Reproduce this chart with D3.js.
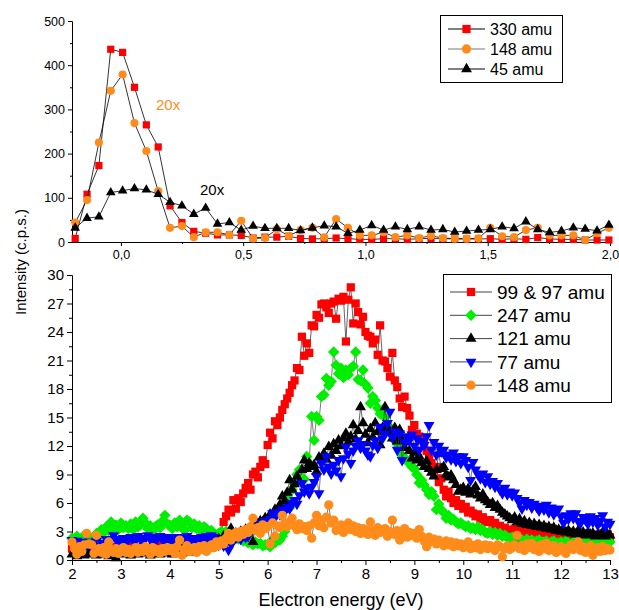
<!DOCTYPE html>
<html>
<head>
<meta charset="utf-8">
<script src="https://cdn.jsdelivr.net/npm/d3@7"></script>
<style>
  body { margin: 0; background: #fff; }
  svg { font-family: "Liberation Sans", Arial, sans-serif; }
</style>
</head>
<body>
<script>
// ---- top panel (0.2 eV region), 46 points per series
const topEnergy = d3.range(46).map(i => -0.187 + 0.0485 * i);
const top330 = [8, 108, 173, 436, 429, 350, 265, 215, 82, 44, 24, 20, 16, 16, 15, 9, 11, 11, 13, 8, 7,
  7.5, 9, 7.5, 6, 6, 7.5, 7.5, 6, 7.5, 8, 7.5, 7, 6.8, 6.8, 7.5, 6, 7.5, 6, 10, 7, 6, 6, 4.5, 4.5, 4.5];
const top148 = [44, 95, 225, 342, 379, 269, 206, 115, 32, 36, 11, 22, 22, 16, 48, 8, 9, 29, 14, 27, 32,
  10.6, 52, 32, 15, 15, 22, 11, 15, 9, 14, 9, 7.5, 7.5, 8.3, 32, 13, 11, 27, 32, 15, 15, 15, 4.5, 20, 32];
const top45 = [32, 54, 57, 112, 116, 121, 118, 108, 90, 82, 63, 77, 41, 44, 27, 36, 31, 31, 31, 26, 32,
  36.9, 34.6, 19.6, 27, 37.6, 27, 34.6, 28.5, 34.6, 27, 28.5, 22.5, 24.9, 27, 28.5, 34.6, 30.8, 46, 28.5, 21.8, 24.9, 32.4, 29.3, 25.6, 38.4];
const topXTicks = [0, 0.5, 1, 1.5, 2];

// ---- bottom panel, 2..13 eV, 0.05 eV grid
const botEnergy = d3.range(221).map(i => 2 + 0.05 * i);
const bot99 = [
  1.2, 1.5, 0.9, 1.4, 1.1, 1.6, 1.0, 1.3, 1.2, 0.8, 1.5, 1.1, 1.4, 1.0, 1.3, 1.7, 1.1, 0.9, 1.4, 1.2,
  1.0, 1.3, 1.5, 0.9, 1.2, 1.4, 1.1, 0.8, 1.3, 1.6, 1.2, 1.0, 0.7, 1.4, 1.1, 1.3, 1.5, 1.0, 1.2, 0.9,
  1.1, 1.4, 1.2, 0.9, 1.5, 1.3, 1.0, 1.6, 1.2, 1.4, 1.1, 1.7, 1.3, 1.5, 1.2, 1.8, 1.6, 1.4, 1.9, 2.0,
  2.2, 2.8, 4.0, 4.6, 5.3, 5.0, 6.3, 5.4, 6.5, 6.1, 7.0, 7.6, 8.1, 7.4, 9.0, 9.3, 8.7, 9.8, 10.5, 10.1,
  12.1, 13.4, 12.8, 14.6, 14.2, 15.0, 15.8, 16.4, 17.0, 17.6, 18.4, 18.9, 20.2, 20.0, 23.5, 21.5, 22.8, 21.8, 24.7, 24.6,
  25.8, 25.5, 26.9, 27.0, 26.6, 26.0, 27.0, 27.2, 25.4, 27.5, 27.3, 27.7, 23.0, 27.4, 28.7, 24.9, 27.0, 26.1, 24.8, 25.6,
  24.0, 23.6, 23.5, 22.8, 23.2, 21.6, 24.7, 21.0, 20.9, 20.2, 19.3, 21.8, 18.9, 18.2, 17.0, 16.1, 17.2, 16.0, 15.2, 13.7,
  14.2, 13.3, 13.0, 12.6, 12.3, 11.5, 10.9, 10.2, 9.5, 9.8, 8.2, 8.6, 7.4, 6.7, 7.2, 6.5, 6.0, 6.3, 5.7, 5.9,
  5.4, 5.6, 5.0, 5.2, 4.9, 4.6, 4.8, 4.3, 4.5, 4.1, 4.0, 4.2, 3.7, 3.9, 3.5, 3.6, 3.3, 3.4, 3.2, 3.0,
  3.1, 3.3, 2.9, 3.2, 3.0, 2.8, 3.1, 3.5, 2.9, 3.0, 2.7, 3.2, 2.8, 2.9, 3.1, 2.6, 2.8, 3.0, 2.7, 2.9,
  2.6, 2.8, 2.5, 2.9, 2.6, 2.4, 2.7, 2.5, 2.8, 2.3, 2.6, 2.4, 2.7, 2.5, 2.2, 2.6, 2.4, 2.8, 2.5, 2.7,
  2.4];
const bot247 = [
  2.3, 2.0, 2.5, 1.8, 2.2, 2.6, 2.1, 2.4, 1.9, 2.3, 2.8, 2.5, 3.2, 2.9, 3.5, 3.1, 4.0, 3.4, 3.7, 3.2,
  3.9, 3.4, 3.6, 3.3, 3.8, 3.2, 4.0, 3.5, 3.7, 4.4, 3.9, 3.3, 3.6, 3.0, 3.5, 3.7, 3.4, 4.1, 4.7, 3.8,
  3.7, 3.3, 3.9, 3.5, 4.2, 3.6, 3.1, 4.2, 4.0, 3.4, 3.8, 3.3, 3.6, 3.0, 3.5, 3.3, 2.9, 3.1, 2.8, 2.6,
  2.8, 3.0, 2.7, 3.0, 2.5, 2.8, 2.4, 2.6, 2.2, 2.5, 2.0, 2.3, 1.8, 2.1, 1.6, 1.9, 1.7, 1.75, 1.5, 1.6,
  1.6, 1.4, 2.1, 1.8, 2.3, 2.1, 2.5, 3.0, 6.7, 5.5, 7.4, 8.0, 9.0, 9.5, 9.5, 8.5, 10.9, 10.2, 15.1, 12.6,
  15.1, 14.7, 17.2, 17.4, 19.1, 18.4, 18.8, 21.9, 20.5, 19.6, 20.2, 19.2, 20.0, 19.5, 20.2, 20.4, 21.9, 19.0, 18.9, 20.0,
  18.5, 18.1, 16.5, 17.2, 16.8, 16.0, 15.4, 15.8, 15.0, 14.2, 13.7, 13.2, 12.6, 12.2, 11.9, 11.0, 10.8, 10.4, 10.2, 9.8,
  9.6, 9.0, 8.1, 8.4, 7.9, 7.4, 6.9, 7.2, 6.7, 5.3, 5.9, 5.3, 5.0, 4.4, 4.7, 4.2, 4.3, 4.0, 3.8, 3.9,
  3.7, 3.5, 3.6, 3.3, 3.4, 3.2, 3.5, 3.1, 3.2, 2.9, 2.8, 3.0, 2.7, 2.9, 2.6, 2.8, 2.5, 2.6, 2.4, 2.3,
  2.4, 2.2, 2.3, 2.0, 2.1, 1.9, 2.2, 1.8, 2.1, 1.9, 2.0, 2.1, 1.8, 1.9, 2.0, 1.7, 1.9, 2.0, 1.75, 1.8,
  1.9, 1.7, 2.0, 1.8, 1.6, 1.9, 2.0, 1.7, 1.8, 1.9, 1.6, 1.8, 1.75, 1.9, 2.0, 1.7, 1.8, 2.1, 1.9, 2.1,
  1.9];
const bot121 = [
  0.6, 0.9, 0.4, 1.1, 0.7, 0.5, 0.9, 0.6, 1.2, 0.8, 0.5, 0.7, 1.0, 0.6, 0.9, 0.4, 0.8, 0.6, 0.2, 0.7,
  0.9, 0.6, 1.1, 0.7, 0.5, 0.8, 1.0, 0.6, 0.9, 0.7, 1.2, 0.8, 0.5, 0.9, 0.7, 1.0, 0.6, 0.8, 1.1, 0.7,
  0.9, 0.6, 1.0, 0.8, 1.5, 0.7, 1.1, 0.9, 1.3, 0.8, 1.2, 1.0, 1.4, 1.1, 1.6, 1.3, 1.8, 1.5, 2.0, 1.7,
  2.2, 1.8, 2.5, 2.1, 2.6, 3.3, 2.2, 2.8, 2.5, 3.0, 2.7, 3.2, 2.9, 3.4, 1.9, 3.6, 3.8, 4.1, 4.0, 4.4,
  4.2, 4.8, 4.6, 5.3, 5.0, 5.8, 6.7, 6.2, 7.1, 8.4, 7.4, 8.0, 8.8, 8.2, 9.5, 10.5, 9.6, 10.2, 9.8, 10.0,
  9.3, 10.8, 10.5, 11.2, 10.6, 11.9, 11.0, 12.2, 11.5, 12.6, 12.0, 12.8, 13.3, 12.4, 13.0, 14.2, 12.7, 13.6, 16.1, 14.4,
  13.2, 12.3, 13.8, 12.9, 14.4, 13.5, 12.1, 13.9, 16.1, 14.0, 13.4, 12.8, 13.9, 12.5, 13.7, 12.6, 11.8, 12.4, 11.5, 10.7,
  11.3, 10.5, 10.9, 10.2, 9.8, 10.4, 9.6, 9.2, 8.8, 9.5, 11.2, 9.6, 9.8, 9.0, 8.7, 8.9, 8.4, 7.9, 7.2, 7.4,
  7.6, 7.1, 7.5, 6.9, 7.3, 7.7, 6.8, 6.5, 6.9, 6.3, 6.1, 5.8, 6.0, 5.5, 5.7, 5.3, 5.0, 4.8, 4.6, 4.4,
  4.2, 4.5, 4.0, 4.3, 3.8, 4.1, 3.7, 3.9, 3.6, 3.8, 3.5, 3.7, 3.4, 3.6, 3.3, 3.5, 3.2, 3.4, 3.1, 3.2,
  3.0, 3.2, 2.9, 3.1, 2.8, 3.0, 2.7, 3.1, 2.8, 2.9, 2.6, 2.9, 2.7, 2.8, 2.5, 2.7, 2.6, 2.9, 2.5, 2.7,
  2.6];
const bot77 = [
  2.1, 1.8, 2.0, 1.6, 1.9, 1.75, 1.5, 1.9, 1.4, 1.7, 2.0, 1.6, 1.8, 1.3, 2.2, 1.9, 2.2, 2.6, 2.2, 2.0,
  2.1, 2.3, 2.0, 2.2, 2.4, 2.1, 2.1, 2.5, 2.2, 2.0, 2.3, 2.6, 2.2, 2.4, 2.1, 2.3, 2.5, 2.2, 2.1, 2.4,
  2.1, 2.3, 2.0, 2.4, 2.2, 2.3, 2.1, 2.5, 2.2, 2.0, 2.3, 2.1, 2.1, 2.4, 2.2, 2.5, 2.3, 2.6, 2.4, 2.1,
  1.6, 2.0, 1.5, 1.8, 1.05, 1.7, 2.0, 2.3, 2.5, 2.2, 2.6, 2.4, 2.5, 3.0, 3.2, 3.5, 3.3, 3.9, 3.6, 4.1,
  3.8, 4.3, 4.9, 4.5, 5.0, 4.8, 5.3, 5.1, 5.6, 5.4, 6.0, 6.3, 5.9, 6.8, 8.1, 7.2, 7.6, 7.0, 7.7, 8.2,
  8.8, 7.0, 10.2, 9.5, 10.9, 9.8, 9.1, 10.0, 9.4, 10.5, 8.8, 10.7, 11.9, 11.2, 10.2, 11.5, 12.0, 12.6, 11.8, 12.2,
  11.5, 11.1, 10.9, 12.1, 12.6, 11.8, 14.0, 12.8, 13.3, 14.4, 15.6, 12.9, 13.5, 11.6, 13.3, 10.5, 12.4, 13.0, 12.6, 13.2,
  12.0, 12.8, 11.6, 12.5, 12.1, 13.0, 14.2, 11.6, 12.4, 11.1, 12.0, 11.4, 11.6, 10.8, 11.1, 10.6, 11.3, 10.4, 10.9, 10.2,
  10.9, 10.5, 9.8, 8.4, 10.3, 9.5, 9.0, 8.6, 9.1, 8.2, 8.8, 8.0, 8.3, 7.7, 8.1, 7.4, 7.0, 7.6, 6.9, 7.2,
  6.8, 7.1, 6.5, 6.0, 5.4, 6.3, 5.8, 6.1, 5.5, 5.9, 5.6, 5.2, 5.7, 5.3, 5.8, 5.0, 5.5, 4.8, 5.2, 5.4,
  4.6, 3.9, 4.7, 4.3, 4.9, 4.4, 4.9, 4.1, 3.9, 4.5, 4.2, 3.8, 4.6, 4.0, 4.4, 3.7, 4.1, 4.7, 3.5, 4.0,
  3.8];
const bot148 = [
  1.9, 1.2, 0.6, 1.4, 0.9, 1.6, 2.8, 1.7, 1.6, 0.7, 2.6, 1.2, 0.8, 1.3, 0.6, 1.9, 1.1, 0.8, 1.2, 0.7,
  0.9, 1.3, 0.8, 1.1, 0.7, 1.05, 1.3, 0.8, 1.2, 0.9, 1.4, 1.0, 0.6, 1.3, 0.9, 1.1, 0.7, 1.2, 0.9, 1.3,
  1.0, 1.2, 0.7, 1.4, 2.1, 0.5, 1.1, 1.5, 0.9, 1.2, 1.3, 0.8, 1.4, 1.1, 1.5, 0.9, 1.2, 1.6, 1.3, 1.9,
  1.5, 2.0, 1.7, 2.3, 2.8, 2.1, 2.5, 2.9, 2.4, 3.0, 2.7, 3.2, 2.9, 3.5, 4.4, 3.1, 3.4, 2.8, 3.7, 3.3,
  3.5, 1.7, 3.9, 2.5, 3.6, 3.4, 4.7, 3.8, 3.5, 4.0, 4.4, 3.6, 3.2, 3.8, 3.3, 3.5, 3.1, 3.6, 2.3, 3.9,
  4.7, 3.6, 4.2, 3.4, 4.5, 5.8, 3.9, 4.2, 3.1, 3.3, 3.7, 2.9, 3.5, 3.9, 3.2, 3.6, 3.0, 3.4, 2.8, 3.3,
  3.2, 2.7, 4.0, 3.1, 2.6, 3.4, 2.9, 3.2, 3.3, 2.5, 3.0, 4.2, 2.7, 3.1, 2.1, 2.8, 3.3, 2.4, 2.9, 2.6,
  2.8, 2.3, 3.2, 2.5, 2.0, 1.4, 2.4, 1.9, 2.2, 1.7, 2.1, 1.8, 1.5, 2.0, 1.6, 1.9, 1.4, 1.8, 1.5, 1.7,
  1.3, 1.6, 1.9, 1.2, 1.5, 1.3, 1.7, 1.1, 1.4, 1.6, 1.2, 1.5, 1.3, 1.0, 1.6, 1.4, 0.35, 1.2, 1.5, 1.1,
  1.3, 1.6, 2.6, 1.2, 1.5, 1.0, 1.7, 1.3, 1.75, 1.1, 1.4, 0.9, 1.6, 1.2, 1.75, 1.0, 1.3, 1.5, 0.8, 1.2,
  1.4, 0.9, 0.7, 1.3, 1.6, 1.1, 1.5, 1.9, 1.0, 1.4, 0.8, 1.2, 1.5, 0.5, 1.1, 1.3, 0.9, 1.4, 1.0, 1.2,
  1.05];
const botXTicks = d3.range(2, 14);
const botYTicks = [0, 3, 6, 9, 12, 15, 18, 21, 24, 27, 30];

const W = 619, H = 610;
const svg = d3.select("body").append("svg").attr("width", W).attr("height", H);

const xTop = d3.scaleLinear().domain([-0.2, 2.0]).range([72, 610]);
const yTop = d3.scaleLinear().domain([0, 500]).range([242, 21]);
const xBot = d3.scaleLinear().domain([2, 13]).range([72, 610]);
const yBot = d3.scaleLinear().domain([0, 30]).range([560, 275]);

const comma = d => d3.format(".1f")(d).replace(".", ",");

function styleAxis(g, size) {
  g.select(".domain").attr("stroke", "#000").attr("stroke-width", 1);
  g.selectAll(".tick line").attr("stroke", "#000").attr("stroke-width", 1);
  g.selectAll("text").attr("fill", "#000").attr("font-size", size);
}

// top axes
svg.append("g").attr("transform", "translate(0,242)")
  .call(d3.axisBottom(xTop).tickValues(d3.range(-0.25, 2.01, 0.25).filter(d => d > -0.2 && d % 0.5 !== 0)).tickSize(2).tickFormat("").tickSizeOuter(0))
  .call(g => styleAxis(g, 12));
svg.append("g").attr("transform", "translate(0,242)")
  .call(d3.axisBottom(xTop).tickValues(topXTicks).tickSize(4).tickPadding(4).tickFormat(comma).tickSizeOuter(0))
  .call(g => styleAxis(g, 12.5));
svg.append("g").attr("transform", "translate(72,0)")
  .call(d3.axisLeft(yTop).tickValues([50, 150, 250, 350, 450]).tickSize(2).tickFormat("").tickSizeOuter(0))
  .call(g => styleAxis(g, 12));
svg.append("g").attr("transform", "translate(72,0)")
  .call(d3.axisLeft(yTop).tickValues([0, 100, 200, 300, 400, 500]).tickSize(4).tickPadding(3).tickSizeOuter(0))
  .call(g => styleAxis(g, 12.5));

// bottom axes
svg.append("g").attr("transform", "translate(0,560)")
  .call(d3.axisBottom(xBot).tickValues(d3.range(2.5, 13, 1)).tickSize(3).tickFormat("").tickSizeOuter(0))
  .call(g => styleAxis(g, 12));
svg.append("g").attr("transform", "translate(0,560)")
  .call(d3.axisBottom(xBot).tickValues(botXTicks).tickSize(5).tickPadding(3).tickFormat(d3.format("d")).tickSizeOuter(0))
  .call(g => styleAxis(g, 15));
svg.append("g").attr("transform", "translate(72,0)")
  .call(d3.axisLeft(yBot).tickValues(d3.range(1.5, 30, 3)).tickSize(3).tickFormat("").tickSizeOuter(0))
  .call(g => styleAxis(g, 12));
svg.append("g").attr("transform", "translate(72,0)")
  .call(d3.axisLeft(yBot).tickValues(botYTicks).tickSize(5).tickPadding(3).tickSizeOuter(0))
  .call(g => styleAxis(g, 15));

// axis titles
svg.append("text").attr("x", 341).attr("y", 606).attr("text-anchor", "middle")
  .attr("font-size", 18).text("Electron energy (eV)");
svg.append("text").attr("transform", "translate(26,262) rotate(-90)").attr("text-anchor", "middle")
  .attr("font-size", 15).text("Intensity (c.p.s.)");

// marker shapes
const shapes = {
  square: { sym: d3.symbolSquare, size: 52, rot: 0 },
  circle: { sym: d3.symbolCircle, size: 52, rot: 0 },
  triangle: { sym: d3.symbolTriangle, size: 40, rot: 0 },
  down: { sym: d3.symbolTriangle, size: 40, rot: 180 },
  diamond: { sym: d3.symbolSquare, size: 50, rot: 45 }
};

function drawSeries(g, xs, ys, sx, sy, color, shape, lineColor, lineWidth, scale) {
  const pts = xs.map((x, i) => [x, ys[i]]);
  g.append("path").datum(pts)
    .attr("fill", "none").attr("stroke", lineColor).attr("stroke-width", lineWidth)
    .attr("d", d3.line().x(d => sx(d[0])).y(d => sy(d[1])));
  const s = shapes[shape];
  g.selectAll(null).data(pts).enter().append("path")
    .attr("d", d3.symbol(s.sym, s.size * scale)())
    .attr("transform", d => `translate(${sx(d[0])},${sy(d[1])}) rotate(${s.rot})`)
    .attr("fill", color);
}

const topG = svg.append("g");
drawSeries(topG, topEnergy, top330, xTop, yTop, "#ff0000", "square", "#000", 0.8, 1);
drawSeries(topG, topEnergy, top148, xTop, yTop, "#ff8c1a", "circle", "#000", 0.8, 1);
drawSeries(topG, topEnergy, top45, xTop, yTop, "#000", "triangle", "#000", 0.8, 1);

svg.append("text").attr("x", 156).attr("y", 110).attr("font-size", 15).attr("fill", "#ff8c1a").text("20x");
svg.append("text").attr("x", 200).attr("y", 195).attr("font-size", 15).attr("fill", "#000").text("20x");

const botG = svg.append("g");
const botSeries = [
  { name: "99 & 97 amu", ys: bot99, color: "#ff0000", shape: "square", line: "#222" },
  { name: "247 amu", ys: bot247, color: "#00ee00", shape: "diamond", line: "#444" },
  { name: "121 amu", ys: bot121, color: "#000", shape: "triangle", line: "#222" },
  { name: "77 amu", ys: bot77, color: "#0000ff", shape: "down", line: "#444" },
  { name: "148 amu", ys: bot148, color: "#ff8c1a", shape: "circle", line: "#444" }
];
botSeries.forEach(s => drawSeries(botG, botEnergy, s.ys, xBot, yBot, s.color, s.shape, s.line, 0.7, 1.3));

// legends
function legend(x, y, w, h, items, rowH, fontSize, lineX0, lineX1, textX, firstY) {
  const g = svg.append("g");
  g.append("rect").attr("x", x).attr("y", y).attr("width", w).attr("height", h)
    .attr("fill", "#fff").attr("stroke", "#000").attr("stroke-width", 1);
  items.forEach((it, i) => {
    const cy = firstY + i * rowH;
    g.append("line").attr("x1", lineX0).attr("x2", lineX1).attr("y1", cy).attr("y2", cy)
      .attr("stroke", it.line).attr("stroke-width", 1);
    const s = shapes[it.shape];
    g.append("path").attr("d", d3.symbol(s.sym, s.size * 1.3)())
      .attr("transform", `translate(${(lineX0 + lineX1) / 2},${cy}) rotate(${s.rot})`)
      .attr("fill", it.color);
    g.append("text").attr("x", textX).attr("y", cy).attr("dy", "0.35em")
      .attr("font-size", fontSize).text(it.name);
  });
}

legend(440.5, 15.5, 122, 67, [
  { name: "330 amu", color: "#ff0000", shape: "square", line: "#000" },
  { name: "148 amu", color: "#ff8c1a", shape: "circle", line: "#777" },
  { name: "45 amu", color: "#000", shape: "triangle", line: "#000" }
], 20, 16, 448, 485, 490, 29);

legend(443.5, 274.5, 168, 128, botSeries.map(s => ({ name: s.name, color: s.color, shape: s.shape, line: "#444" })),
  23.3, 19, 450, 492, 497, 292);
</script>
</body>
</html>
